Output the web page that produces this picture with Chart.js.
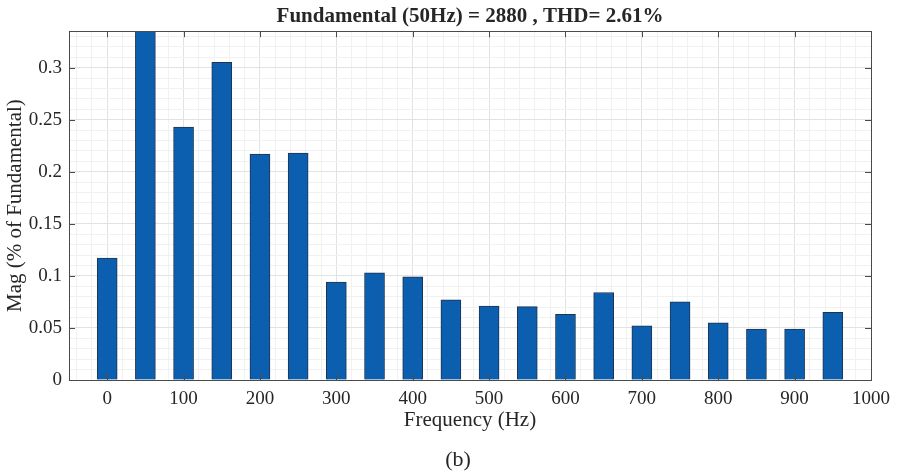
<!DOCTYPE html>
<html>
<head>
<meta charset="utf-8">
<title>Harmonic spectrum</title>
<script src="https://cdn.jsdelivr.net/npm/chart.js@4.4.1/dist/chart.umd.min.js"></script>
<style>
  html, body { margin: 0; padding: 0; background: #ffffff; }
  canvas { display: block; }
</style>
</head>
<body>
<canvas id="spectrum" width="898" height="474"></canvas>
<script>
// Harmonic content, frequency in Hz and magnitude in % of the fundamental
const frequencies = [0, 50, 100, 150, 200, 250, 300, 350, 400, 450,
                     500, 550, 600, 650, 700, 750, 800, 850, 900, 950];
const magnitudes = [0.117, 100, 0.243, 0.305, 0.217, 0.218, 0.094, 0.103, 0.099, 0.077,
                    0.071, 0.0705, 0.063, 0.084, 0.052, 0.075, 0.055, 0.049, 0.049, 0.065];

// Labelled axis ticks
const xTickValues = [0, 100, 200, 300, 400, 500, 600, 700, 800, 900, 1000];
const yTickValues = [0, 0.05, 0.1, 0.15, 0.2, 0.25, 0.3];

const chartTitle = 'Fundamental (50Hz) = 2880 , THD= 2.61%';
const xAxisTitle = 'Frequency (Hz)';
const yAxisTitle = 'Mag (% of Fundamental)';
const panelLabel = '(b)';

const SERIF = '"Liberation Serif", "Times New Roman", serif';
const TEXT = '#262626';
const AXIS = '#4a4a4a';
const MAJOR_GRID = '#e2e2e2';
const MINOR_GRID = '#f1f1f1';

const X_MIN = -50, X_MAX = 1000, X_MINOR = 20;
const Y_MIN = 0, Y_MAX = 0.335, Y_MINOR = 0.01;

const near = (a, b) => Math.abs(a - b) < 1e-9;
const isXMajor = v => xTickValues.some(t => near(t, v));
const isYMajor = v => yTickValues.some(t => near(t, v));
const tickValue = c => (c && c.tick ? c.tick.value : NaN);

// Major ticks plus the faint minor grid in between
function xGridValues() {
  const out = [];
  for (let i = Math.ceil(X_MIN / X_MINOR); i * X_MINOR <= X_MAX; i++) out.push(i * X_MINOR);
  return out;
}
function yGridValues() {
  const out = [];
  for (let i = 0; i * Y_MINOR <= Y_MAX + 1e-9; i++) out.push(+(i * Y_MINOR).toFixed(4));
  return out;
}

// Box around the axes, inward tick marks on all four sides, and the panel letter
const axesFrame = {
  id: 'axesFrame',
  afterDatasetsDraw(chart) {
    const { ctx, chartArea: a, scales } = chart;
    const len = 6;
    ctx.save();
    ctx.strokeStyle = AXIS;
    ctx.lineWidth = 1;
    ctx.beginPath();
    xTickValues.forEach(v => {
      const x = Math.round(scales.x.getPixelForValue(v)) + 0.5;
      ctx.moveTo(x, a.bottom); ctx.lineTo(x, a.bottom - len);
      ctx.moveTo(x, a.top); ctx.lineTo(x, a.top + len);
    });
    yTickValues.forEach(v => {
      const y = Math.round(scales.y.getPixelForValue(v)) + 0.5;
      ctx.moveTo(a.left, y); ctx.lineTo(a.left + len, y);
      ctx.moveTo(a.right, y); ctx.lineTo(a.right - len, y);
    });
    ctx.stroke();
    ctx.strokeRect(Math.round(a.left) + 0.5, Math.round(a.top) + 0.5,
                   Math.round(a.right - a.left), Math.round(a.bottom - a.top));
    ctx.restore();
  },
  afterDraw(chart) {
    const { ctx } = chart;
    ctx.save();
    ctx.fillStyle = TEXT;
    ctx.font = '22px ' + SERIF;
    ctx.textAlign = 'center';
    ctx.textBaseline = 'middle';
    ctx.fillText(panelLabel, 458, 460);
    ctx.restore();
  }
};

new Chart(document.getElementById('spectrum'), {
  type: 'bar',
  data: {
    datasets: [{
      data: frequencies.map((f, i) => ({ x: f, y: magnitudes[i] })),
      backgroundColor: '#0b5fae',
      borderColor: '#1f3350',
      borderWidth: 1,
      barThickness: 20,
      clip: 0
    }]
  },
  options: {
    responsive: false,
    animation: false,
    devicePixelRatio: 1,
    layout: { padding: { left: 0, right: 27, top: 0, bottom: 38 } },
    plugins: {
      legend: { display: false },
      tooltip: { enabled: false },
      title: {
        display: true,
        text: chartTitle,
        fullSize: false,
        color: TEXT,
        font: { family: SERIF, size: 21, weight: 'bold', lineHeight: 1.2 },
        padding: { top: 4, bottom: 2 }
      }
    },
    scales: {
      x: {
        type: 'linear',
        offset: false,
        min: X_MIN,
        max: X_MAX,
        afterBuildTicks: s => { s.ticks = xGridValues().map(v => ({ value: v })); },
        afterFit: s => { s.height = 56; },
        ticks: {
          autoSkip: false,
          maxRotation: 0,
          padding: 8,
          color: TEXT,
          font: { family: SERIF, size: 19 },
          callback: v => (isXMajor(v) ? String(v) : '')
        },
        grid: {
          offset: false,
          drawTicks: false,
          color: c => (isXMajor(tickValue(c)) ? MAJOR_GRID : MINOR_GRID),
          lineWidth: 1
        },
        border: { display: true, color: AXIS, width: 1 },
        title: {
          display: true,
          text: xAxisTitle,
          color: TEXT,
          font: { family: SERIF, size: 21, lineHeight: 1.2 },
          padding: { top: 4, bottom: 3 }
        }
      },
      y: {
        type: 'linear',
        min: Y_MIN,
        max: Y_MAX,
        afterBuildTicks: s => { s.ticks = yGridValues().map(v => ({ value: v })); },
        afterFit: s => { s.width = 69; },
        ticks: {
          autoSkip: false,
          padding: 7,
          color: TEXT,
          font: { family: SERIF, size: 19 },
          callback: v => (isYMajor(v) ? String(+v.toFixed(2)) : '')
        },
        grid: {
          drawTicks: false,
          color: c => (isYMajor(tickValue(c)) ? MAJOR_GRID : MINOR_GRID),
          lineWidth: 1
        },
        border: { display: true, color: AXIS, width: 1 },
        title: {
          display: true,
          text: yAxisTitle,
          color: TEXT,
          font: { family: SERIF, size: 21, lineHeight: 1.2 },
          padding: { top: 3, bottom: 0 }
        }
      }
    }
  },
  plugins: [axesFrame]
});
</script>
</body>
</html>
